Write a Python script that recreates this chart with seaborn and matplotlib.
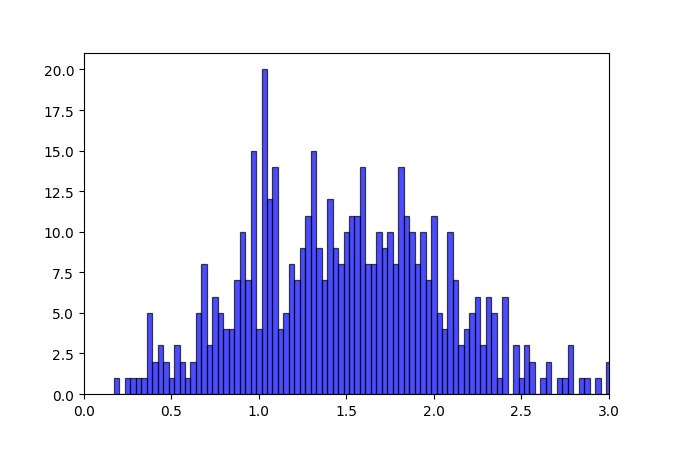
import numpy as np
import pandas as pd
import matplotlib
matplotlib.use("Agg")
import matplotlib.pyplot as plt
import seaborn as sns

# histogram bin layout
bin_start = 0.1715
bin_width = 0.03126

# counts per bin, left to right
counts = [1, 0, 1, 1, 1, 1, 5, 2, 3, 2,
          1, 3, 2, 1, 2, 5, 8, 3, 6, 5,
          4, 4, 7, 10, 7, 15, 4, 20, 12, 14,
          4, 5, 8, 7, 9, 11, 15, 9, 7, 12,
          9, 8, 10, 11, 11, 14, 8, 8, 10, 9,
          10, 8, 14, 11, 10, 8, 10, 7, 11, 5,
          4, 10, 7, 3, 4, 5, 6, 3, 6, 5,
          1, 6, 0, 3, 1, 3, 2, 0, 1, 2,
          0, 1, 1, 3, 0, 1, 1, 0, 1, 0,
          2]

nbins = len(counts)
bin_end = bin_start + bin_width * nbins
centers = bin_start + bin_width * (np.arange(nbins) + 0.5)
df = pd.DataFrame({"value": centers, "count": counts})

fig, ax = plt.subplots(figsize=(6.77, 4.52), dpi=100)
fig.subplots_adjust(left=0.124, right=0.899, top=0.88, bottom=0.126)

# black edges drawn semi-transparent, like the fill
sns.histplot(data=df, x="value", weights="count", bins=nbins,
             binrange=(bin_start, bin_end), color='blue',
             alpha=0.7, edgecolor=(0, 0, 0, 0.7), linewidth=0.9, ax=ax)

ax.set_xlim(0, 3)
ax.set_ylim(0, 21)
ax.set_yticks(np.arange(0, 20.1, 2.5))
ax.set_xlabel("")
ax.set_ylabel("")

plt.savefig("out.png", dpi=100)
